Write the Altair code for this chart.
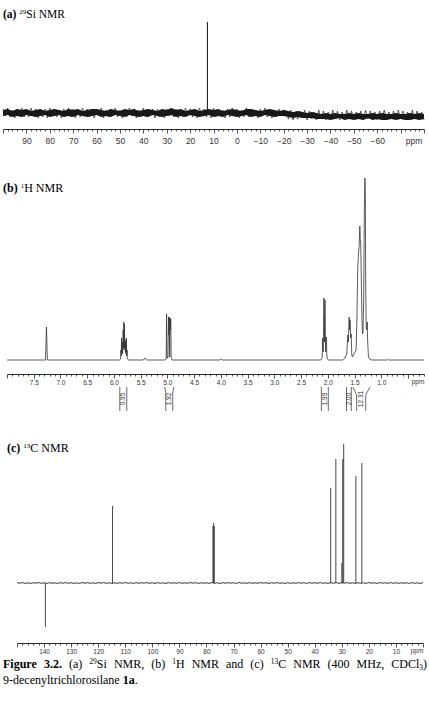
import altair as alt
import pandas as pd

# ------------------------------------------------------------------ data
# (a) 29Si NMR : dark noise band edges every 2 ppm (100 -> -80 ppm)
si_top = [3, 4, 2, 4, 3, 4, 2, 3, 4, 2,
          3, 4, 3, 2, 4, 3, 4, 2, 3, 4,
          4, 3, 2, 4, 3, 2, 4, 3, 4, 2,
          3, 4, 3, 2, 4, 3, 5, 3, 4, 2,
          3, 4, 2, 3, 4, 3, 4, 2, 3, 4,
          3, 2, 4, 4, 3, 2, 3, 4, 3, 2,
          3, 2, 1, 2, 1, 0, 1, 0, -1, 0,
          -1, 0, -1, -1, 0, -1, 0, -1, -1, 0,
          -1, 0, -1, -1, 0, -1, -1, 0, -1, 0, -1]
si_bot = [-3, -2, -4, -3, -4, -2, -3, -4, -3, -2,
          -4, -3, -2, -4, -3, -4, -2, -3, -4, -3,
          -2, -4, -3, -4, -2, -3, -4, -2, -3, -4,
          -3, -4, -2, -3, -4, -3, -2, -4, -3, -4,
          -2, -3, -4, -3, -2, -4, -3, -4, -2, -3,
          -4, -3, -2, -4, -3, -4, -2, -3, -4, -3,
          -3, -4, -5, -4, -5, -5, -5, -6, -6, -6,
          -7, -6, -5, -7, -6, -7, -6, -7, -5, -7,
          -6, -7, -7, -6, -7, -6, -7, -7, -6, -7, -6]
# fine noise trace every 1 ppm (100 -> -80 ppm)
si_noise = [4, -3, 5, -4, 3, -5, 4, -3, 5, -4,
            3, -4, 5, -3, 4, -5, 3, -4, 4, -5,
            5, -3, 4, -4, 3, -5, 4, -3, 5, -4,
            4, -5, 3, -4, 5, -3, 4, -4, 3, -5,
            4, -3, 5, -5, 3, -4, 4, -3, 5, -4,
            3, -5, 4, -4, 5, -3, 4, -5, 3, -4,
            5, -4, 3, -3, 4, -5, 4, -4, 3, -5,
            4, -3, 5, -4, 4, -5, 3, -4, 5, -3,
            4, -4, 3, -5, 5, -3, 4, -4, 3, -5,
            5, -4, 4, -3, 3, -5, 4, -4, 5, -3,
            4, -5, 3, -4, 5, -4, 4, -3, 3, -5,
            4, -3, 5, -4, 4, -5, 3, -4, 4, -3,
            3,
            2, -6, 3, -7, 1, -6, 2, -5, 3, -7,
            2, -6, 1, -7, 3, -6, 2, -7, 1, -5,
            3, -6, 2, -7, 1, -6, 3, -5, 2, -7,
            1, -6, 2, -7, 3, -6, 2, -5, 1, -7,
            2, -6, 3, -7, 1, -6, 2, -7, 3, -5,
            2, -6, 1, -7, 3, -6, 2, -5, 1, -7]
si_peak_ppm = [12.6]
si_peak_height = [91]

# (b) 1H NMR : spectrum vertices (ppm, intensity)
h_spectrum = [
    (8.00, 0), (7.28, 0), (7.262, 33), (7.245, 0),
    (5.90, 0), (5.875, 1), (5.869, 10), (5.863, 4), (5.857, 22), (5.851, 8), (5.845, 18),
    (5.839, 6), (5.833, 14), (5.827, 30), (5.821, 12), (5.815, 38), (5.809, 10), (5.803, 36),
    (5.797, 12), (5.791, 20), (5.785, 8), (5.779, 18), (5.773, 6), (5.767, 22), (5.761, 4),
    (5.755, 10), (5.749, 1), (5.74, 0.5), (5.72, 0),
    (5.45, 0), (5.42, 2), (5.39, 0),
    (5.05, 0), (5.022, 1), (5.015, 46), (5.008, 2), (4.99, 2), (4.978, 43), (4.971, 25),
    (4.965, 43), (4.957, 3), (4.949, 42), (4.943, 30), (4.937, 41), (4.929, 2), (4.91, 0),
    (4.03, 0), (4.00, 1), (3.97, 0),
    (2.13, 0), (2.105, 2), (2.095, 22), (2.085, 8), (2.072, 62), (2.062, 18), (2.052, 60),
    (2.04, 8), (2.028, 23), (2.015, 2), (1.99, 0),
    (1.72, 0), (1.68, 2), (1.645, 6), (1.625, 25), (1.615, 18), (1.60, 43), (1.592, 30),
    (1.582, 40), (1.572, 22), (1.562, 26), (1.552, 6), (1.54, 3), (1.52, 5),
    (1.47, 10), (1.455, 40), (1.44, 90), (1.425, 107), (1.415, 112), (1.40, 134),
    (1.392, 120), (1.384, 118), (1.372, 80), (1.36, 40), (1.35, 26), (1.34, 28),
    (1.328, 60), (1.316, 150), (1.305, 182), (1.297, 160), (1.29, 70), (1.28, 32),
    (1.27, 30), (1.262, 38), (1.255, 20), (1.24, 4), (1.22, 1), (1.18, 0),
    (0.90, 0), (0.88, 1), (0.86, 0), (0.20, 0),
]
h_integral_text = ["0.95", "1.92", "1.99", "2.00", "12.31"]
h_integral_ppm = [5.825, 4.965, 2.055, 1.605, 1.37]
h_brackets = [
    [(5.89, -27), (5.89, -51)], [(5.76, -27), (5.76, -51)],
    [(5.05, -27), (5.03, -33), (5.03, -51)], [(4.88, -27), (4.90, -33), (4.90, -51)],
    [(2.12, -27), (2.12, -51)], [(1.99, -27), (1.99, -51)],
    [(1.65, -27), (1.65, -51)], [(1.56, -27), (1.56, -51)],
    [(1.53, -27), (1.46, -35), (1.46, -51)], [(1.21, -27), (1.29, -35), (1.29, -51)],
]

# (c) 13C NMR : baseline jitter every 1 ppm from 150 ppm, and peaks
c_jitter = [0.3, -0.2, 0.4, -0.35, 0.15, -0.4, 0.25, -0.15, 0.45, -0.3,
            0.2, -0.4, 0.35, -0.25, 0.15, -0.45, 0.3, -0.2, 0.4, -0.3,
            0.25, -0.35, 0.15, -0.4, 0.45, -0.2, 0.3, -0.25, 0.2, -0.45,
            0.35, -0.15, 0.4, -0.3, 0.25, -0.4, 0.2, -0.35, 0.3, -0.25,
            0.45, -0.2, 0.15, -0.4, 0.35, -0.3, 0.25, -0.15, 0.4, -0.35,
            0.2, -0.45, 0.3, -0.25, 0.15, -0.4, 0.35, -0.2, 0.25, -0.3,
            0.4, -0.25, 0.2, -0.35, 0.45, -0.15, 0.3, -0.4, 0.25, -0.2,
            0.15, -0.35, 0.4, -0.3, 0.2, -0.45, 0.35, -0.25, 0.3, -0.15,
            0.25, -0.4, 0.45, -0.2, 0.15, -0.3, 0.35, -0.35, 0.2, -0.25,
            0.4, -0.15, 0.3, -0.45, 0.25, -0.2, 0.35, -0.3, 0.15, -0.4,
            0.3, -0.25, 0.2, -0.35, 0.4, -0.2, 0.25, -0.45, 0.35, -0.15,
            0.2, -0.3, 0.45, -0.25, 0.15, -0.4, 0.3, -0.2, 0.35, -0.35,
            0.25, -0.15, 0.4, -0.3, 0.2, -0.45, 0.3, -0.25, 0.15, -0.35,
            0.45, -0.2, 0.25, -0.4, 0.35, -0.15, 0.2, -0.3, 0.4, -0.25,
            0.3, -0.35, 0.15, -0.2, 0.25, -0.4, 0.35, -0.3, 0.2, -0.45,
            0.3]
c_peak_ppm = [139.5, 114.7, 77.6, 77.35, 77.1, 34.1, 32.2, 30.0, 29.65, 29.3, 24.8, 22.6]
c_peak_height = [-44, 77, 57, 60, 57, 95, 124, 20, 124, 139, 107, 120]

# axis tick values
si_ticks = [100 - 2 * i for i in range(91)]
h_ticks = [round(8.0 - 0.1 * i, 1) for i in range(79)]
c_ticks = [150 - 2 * i for i in range(76)]

# ------------------------------------------------------------------ layout helpers
W = 429
HA, HB, HC, HCAP = 129, 245, 269, 78
TOP_B, TOP_C, TOP_CAP = 129, 374, 643
BASE_A, BASE_B, BASE_C = 113, 360, 583

TR = {' ': 250, '(': 333, ')': 333, ',': 250, '.': 250, '-': 333, 'a': 444, 'b': 500, 'c': 444,
      'd': 500, 'e': 444, 'f': 333, 'g': 500, 'h': 500, 'i': 278, 'l': 278, 'm': 778, 'n': 500,
      'o': 500, 'r': 333, 's': 389, 't': 278, 'u': 500, 'y': 500, 'z': 444, 'C': 667, 'D': 722,
      'F': 556, 'H': 722, 'M': 889, 'N': 722, 'R': 667, 'S': 556}
TB = {' ': 250, '(': 333, ')': 333, '.': 250, 'a': 500, 'b': 556, 'c': 444, 'e': 444, 'g': 500,
      'i': 278, 'r': 444, 'u': 556, 'F': 611}


def tw(s, size, bold):
    d = TB if bold else TR
    return sum(d.get(ch, 500) for ch in s) * size / 1000.0


def lay(parts, x0, ybase):
    rows, x = [], x0
    for t, s, b, r in parts:
        if t.strip():
            rows.append(dict(t=t, x=x, y=ybase - r, fs=s, b=b))
        x += tw(t, s, b)
    return rows


def justify(words, x0, x1, ybase):
    widths = [sum(tw(t, s, b) for t, s, b, r in w) for w in words]
    gap = (x1 - x0 - sum(widths)) / (len(words) - 1)
    rows, x = [], x0
    for w, wd in zip(words, widths):
        rows += lay(w, x, ybase)
        x += wd + gap
    return rows


def lin(v, d0, d1, r0, r1):
    return d0 + (v - r0) * (d1 - d0) / (r1 - r0)


SERIF = "Liberation Serif"
SANS = "Liberation Sans"
INK = "#2a2a2a"


def ppm_axis(values, major, show, fmt, fs, pad):
    return alt.Axis(values=values, format=fmt, title=None, grid=False,
                    labelExpr="(" + show + ") ? datum.label : ''",
                    tickSize={"condition": {"test": major, "value": 4}, "value": 2},
                    tickColor=INK, tickWidth=0.8, domainColor=INK, domainWidth=1,
                    labelFont=SANS, labelFontSize=fs, labelColor="#333",
                    labelPadding=pad, labelFlush=False, labelOverlap=False)


def label_layers(rows, xs, ys, xaxis):
    df = pd.DataFrame(rows)
    out = []
    for bold in (True, False):
        sub = df[df.b == bold]
        if len(sub):
            out.append(alt.Chart(sub).mark_text(align="left", baseline="alphabetic", font=SERIF,
                                                color="black",
                                                fontWeight="bold" if bold else "normal").encode(
                x=alt.X("px:Q", scale=xs, axis=xaxis), y=alt.Y("py:Q", scale=ys, axis=None),
                text="t:N", size=alt.Size("fs:Q", scale=None)))
    return out


# ------------------------------------------------------------------ panel (a)
xa = alt.Scale(domain=[100, -80], range=[3, 424], nice=False, zero=False)
ya = alt.Scale(domain=[-(HA - BASE_A), BASE_A], nice=False, zero=False)
axa = ppm_axis(si_ticks, "datum.value % 10 === 0",
               "datum.value % 10 === 0 && datum.value <= 90 && datum.value >= -60", "d", 8.5, 3)
n_band = min(len(si_top), len(si_bot))
df_band = pd.DataFrame({"ppm": [100 - 2 * i for i in range(n_band)],
                        "top": si_top[:n_band], "bot": si_bot[:n_band]})
df_noise = pd.DataFrame({"ppm": [100 - i for i in range(len(si_noise))], "v": si_noise})
df_a_peak = pd.DataFrame({"ppm": si_peak_ppm, "h": si_peak_height, "z": [0] * len(si_peak_ppm)})

rows_a = lay([("(a)", 11.5, True, 0), (" ", 11.5, False, 0), ("29", 7, False, 4.5),
              ("Si NMR", 11.5, False, 0)], 3, 18)
for r in rows_a:
    r["px"] = lin(r["x"], 100, -80, 3, 424)
    r["py"] = BASE_A - r["y"]

band_a = alt.Chart(df_band).mark_area(color="#151515").encode(
    x=alt.X("ppm:Q", scale=xa, axis=axa),
    y=alt.Y("top:Q", scale=ya, axis=None), y2="bot:Q")
trace_a = alt.Chart(df_noise).mark_line(color="#222", strokeWidth=0.7).encode(
    x=alt.X("ppm:Q", scale=xa, axis=axa),
    y=alt.Y("v:Q", scale=ya, axis=None))
peak_a = alt.Chart(df_a_peak).mark_rule(color="#111", strokeWidth=1).encode(
    x=alt.X("ppm:Q", scale=xa, axis=axa), y=alt.Y("z:Q", scale=ya, axis=None), y2="h:Q")
ppm_a = alt.Chart(pd.DataFrame({"ppm": [lin(414, 100, -80, 3, 424)], "v": [-(141 - BASE_A)], "t": ["ppm"]})).mark_text(
    font=SANS, fontSize=8.5, color="#333", baseline="middle").encode(
    x=alt.X("ppm:Q", scale=xa, axis=axa), y=alt.Y("v:Q", scale=ya, axis=None), text="t:N")
panel_a = alt.layer(band_a, trace_a, peak_a, ppm_a, *label_layers(rows_a, xa, ya, axa)).properties(width=W, height=HA)

# ------------------------------------------------------------------ panel (b)
xb = alt.Scale(domain=[8.0, 0.2], range=[7, 424], nice=False, zero=False)
yb = alt.Scale(domain=[-(TOP_C - BASE_B), BASE_B - TOP_B], nice=False, zero=False)
axb = ppm_axis(h_ticks, "abs(datum.value*2 - round(datum.value*2)) < 0.001",
               "abs(datum.value*2 - round(datum.value*2)) < 0.001 && datum.value <= 7.51 && datum.value >= 0.99",
               ".1f", 6.5, 1)
df_b = pd.DataFrame(h_spectrum, columns=["ppm", "v"])
df_int = pd.DataFrame({"ppm": h_integral_ppm, "t": h_integral_text, "v": [-39] * len(h_integral_ppm)})
br_rows = []
for i, seg in enumerate(h_brackets):
    for j, (p, v) in enumerate(seg):
        br_rows.append({"id": i, "o": j, "ppm": p, "v": v})
df_br = pd.DataFrame(br_rows)

rows_b = lay([("(b)", 12, True, 0), (" ", 12, False, 0), ("1", 7, False, 4.5),
              ("H NMR", 12, False, 0)], 3, 192)
for r in rows_b:
    r["px"] = lin(r["x"], 8.0, 0.2, 7, 424)
    r["py"] = BASE_B - r["y"]

line_b = alt.Chart(df_b).mark_line(color="#333", strokeWidth=0.8).encode(
    x=alt.X("ppm:Q", scale=xb, axis=axb),
    y=alt.Y("v:Q", scale=yb, axis=None))
br_b = alt.Chart(df_br).mark_line(color="#444", strokeWidth=0.8).encode(
    x=alt.X("ppm:Q", scale=xb, axis=axb), y=alt.Y("v:Q", scale=yb, axis=None),
    detail="id:N", order="o:O")
int_b = alt.Chart(df_int).mark_text(font=SANS, fontSize=6.5, angle=270, color="#333",
                                    align="center", baseline="middle").encode(
    x=alt.X("ppm:Q", scale=xb, axis=axb), y=alt.Y("v:Q", scale=yb, axis=None), text="t:N")
ppm_b = alt.Chart(pd.DataFrame({"ppm": [lin(418, 8.0, 0.2, 7, 424)], "v": [-(382 - BASE_B)], "t": ["ppm"]})).mark_text(
    font=SANS, fontSize=6.5, color="#333", baseline="middle").encode(
    x=alt.X("ppm:Q", scale=xb, axis=axb), y=alt.Y("v:Q", scale=yb, axis=None), text="t:N")
panel_b = alt.layer(line_b, br_b, int_b, ppm_b, *label_layers(rows_b, xb, yb, axb)).properties(width=W, height=HB)

# ------------------------------------------------------------------ panel (c)
xc = alt.Scale(domain=[150, 0], range=[17, 423], nice=False, zero=False)
yc = alt.Scale(domain=[-(TOP_CAP - BASE_C), BASE_C - TOP_C], nice=False, zero=False)
axc = ppm_axis(c_ticks, "datum.value % 10 === 0",
               "datum.value % 10 === 0 && datum.value <= 140 && datum.value >= 10", "d", 6.5, 1)
df_cb = pd.DataFrame({"ppm": [150 - i for i in range(len(c_jitter))], "v": c_jitter})
df_cp = pd.DataFrame({"ppm": c_peak_ppm, "h": c_peak_height, "z": [0] * len(c_peak_ppm)})

rows_c = lay([("(c)", 12, True, 0), (" ", 12, False, 0), ("13", 7, False, 4.5),
              ("C NMR", 12, False, 0)], 7, 452)
for r in rows_c:
    r["px"] = lin(r["x"], 150, 0, 17, 423)
    r["py"] = BASE_C - r["y"]

base_c = alt.Chart(df_cb).mark_line(color="#333", strokeWidth=1).encode(
    x=alt.X("ppm:Q", scale=xc, axis=axc),
    y=alt.Y("v:Q", scale=yc, axis=None))
peaks_c = alt.Chart(df_cp).mark_rule(color="#333", strokeWidth=0.9).encode(
    x=alt.X("ppm:Q", scale=xc, axis=axc), y=alt.Y("z:Q", scale=yc, axis=None), y2="h:Q")
ppm_c = alt.Chart(pd.DataFrame({"ppm": [lin(417, 150, 0, 17, 423)], "v": [-(651 - BASE_C)], "t": ["ppm"]})).mark_text(
    font=SANS, fontSize=6.5, color="#333", baseline="middle").encode(
    x=alt.X("ppm:Q", scale=xc, axis=axc), y=alt.Y("v:Q", scale=yc, axis=None), text="t:N")
panel_c = alt.layer(base_c, peaks_c, ppm_c, *label_layers(rows_c, xc, yc, axc)).properties(width=W, height=HC)

# ------------------------------------------------------------------ caption
F = 12
S = 7.5
words1 = [
    [("Figure", F, True, 0)], [("3.2.", F, True, 0)], [("(a)", F, False, 0)],
    [("29", S, False, 4.5), ("Si", F, False, 0)], [("NMR,", F, False, 0)], [("(b)", F, False, 0)],
    [("1", S, False, 4.5), ("H", F, False, 0)], [("NMR", F, False, 0)], [("and", F, False, 0)],
    [("(c)", F, False, 0)], [("13", S, False, 4.5), ("C", F, False, 0)], [("NMR", F, False, 0)],
    [("(400", F, False, 0)], [("MHz,", F, False, 0)],
    [("CDCl", F, False, 0), ("3", S, False, -2), (")", F, False, 0)],
]
rows_cap = justify(words1, 3, 427, 668 - TOP_CAP)
rows_cap += lay([("9-decenyltrichlorosilane ", F, False, 0), ("1a", F, True, 0), (".", F, False, 0)],
                3, 684 - TOP_CAP)
for r in rows_cap:
    r["px"] = r["x"]
    r["py"] = r["y"]
xcap = alt.Scale(domain=[0, W], range=[0, W], nice=False, zero=False)
ycap = alt.Scale(domain=[0, HCAP], range=[0, HCAP], nice=False, zero=False)
caption = alt.layer(*label_layers(rows_cap, xcap, ycap, None)).properties(width=W, height=HCAP)

chart = alt.vconcat(panel_a, panel_b, panel_c, caption, spacing=0, bounds="flush").properties(
    padding=0, background="white").configure_view(stroke=None)

chart.save("out.html", embed_options={"renderer": "svg", "actions": False})
